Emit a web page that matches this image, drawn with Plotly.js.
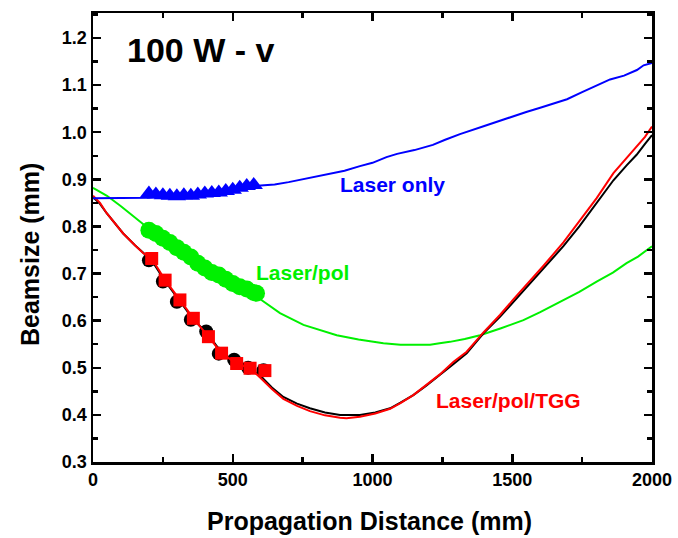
<!DOCTYPE html>
<html>
<head>
<meta charset="utf-8">
<script src="https://cdn.plot.ly/plotly-3.0.1.min.js"></script>
<style>html,body{margin:0;padding:0;background:#fff;}#chart{width:678px;height:538px;}</style>
</head>
<body>
<div id="chart"></div>
<script>
// ---- data ----
const blueLineX = [0,50,100,150,180,200,300,400,500,600,650,700,750,800,850,900,955,1000,1050,1088,1150,1216,1260,1313,1400,1492,1550,1600,1650,1696,1750,1800,1850,1900,1946,1970,2000];
const blueLineY = [0.860,0.860,0.860,0.860,0.860,0.861,0.866,0.872,0.879,0.887,0.889,0.894,0.900,0.906,0.912,0.918,0.928,0.935,0.947,0.954,0.962,0.973,0.984,0.996,1.013,1.032,1.043,1.052,1.061,1.070,1.085,1.098,1.112,1.120,1.132,1.142,1.147];
const blueMarkX = [200,225,250,275,300,325,350,375,400,425,450,475,500,525,550,575];
const blueMarkY = [0.870,0.868,0.866,0.865,0.864,0.866,0.865,0.868,0.870,0.871,0.872,0.875,0.878,0.882,0.886,0.888];

const greenLineX = [0,25,50,100,150,200,250,300,350,400,450,500,550,600,669,753,810,872,950,1039,1100,1150,1206,1240,1277,1330,1385,1460,1540,1600,1671,1740,1802,1860,1909,1950,2000];
const greenLineY = [0.882,0.874,0.865,0.843,0.818,0.795,0.775,0.755,0.735,0.713,0.695,0.679,0.667,0.645,0.616,0.591,0.580,0.569,0.560,0.552,0.549,0.549,0.549,0.552,0.555,0.561,0.569,0.584,0.601,0.618,0.640,0.661,0.683,0.702,0.722,0.736,0.758];
const greenMarkX = [200,225,250,275,300,325,350,375,400,425,450,475,500,525,550,575,585];
const greenMarkY = [0.792,0.785,0.775,0.766,0.755,0.745,0.735,0.722,0.712,0.702,0.697,0.688,0.679,0.672,0.667,0.660,0.658];

const blackLineX = [0,25,49,80,108,150,180,210,258,311,359,413,460,514,562,597,640,681,730,776,830,884,955,1010,1063,1100,1146,1190,1241,1290,1337,1397,1456,1504,1560,1611,1683,1740,1802,1862,1910,1945,1975,2000];
const blackLineY = [0.862,0.848,0.828,0.806,0.785,0.760,0.743,0.728,0.684,0.642,0.603,0.570,0.532,0.512,0.499,0.484,0.458,0.438,0.424,0.414,0.405,0.400,0.400,0.405,0.414,0.426,0.442,0.461,0.484,0.508,0.531,0.573,0.608,0.640,0.677,0.710,0.758,0.800,0.850,0.898,0.930,0.952,0.975,0.994];
const blackMarkX = [200,250,300,350,405,450,505,555,610];
const blackMarkY = [0.728,0.683,0.640,0.602,0.577,0.530,0.517,0.500,0.495];

const redLineX = [0,25,49,80,108,150,180,210,258,311,359,413,460,514,562,597,640,681,730,776,830,884,907,955,1010,1063,1100,1146,1190,1241,1290,1337,1397,1456,1504,1560,1611,1683,1740,1802,1862,1910,1945,1975,2000];
const redLineY = [0.865,0.850,0.828,0.806,0.785,0.760,0.743,0.732,0.686,0.644,0.605,0.566,0.531,0.509,0.499,0.480,0.455,0.434,0.419,0.408,0.399,0.394,0.393,0.396,0.403,0.413,0.425,0.442,0.462,0.486,0.513,0.534,0.575,0.612,0.645,0.682,0.716,0.766,0.810,0.860,0.913,0.945,0.969,0.990,1.012];
const redMarkX = [210,258,311,359,413,460,514,562,615];
const redMarkY = [0.732,0.686,0.644,0.605,0.566,0.531,0.509,0.499,0.494];

const xTickVals = [0,500,1000,1500,2000];
const xTickText = ['0','500','1000','1500','2000'];
const yTickVals = [0.3,0.4,0.5,0.6,0.7,0.8,0.9,1.0,1.1,1.2];
const yTickText = ['0.3','0.4','0.5','0.6','0.7','0.8','0.9','1.0','1.1','1.2'];

const labelText = ['Laser only','Laser/pol','Laser/pol/TGG'];
const labelX = [1070,748,1485];
const labelY = [0.890,0.703,0.431];
const titleText = '100 W - v';
const xTitle = 'Propagation Distance (mm)';
const yTitle = 'Beamsize (mm)';

// ---- styles ----
const BLUE = '#0000ff', GREEN = '#00f000', RED = '#ff0000', BLACK = '#000000';
const FONT = 'Arial, "Liberation Sans", sans-serif';

const traces = [
  {x: greenLineX, y: greenLineY, mode:'lines', line:{color:GREEN, width:2}},
  {x: greenMarkX, y: greenMarkY, mode:'markers', marker:{color:GREEN, size:17, symbol:'circle'}},
  {x: blackLineX, y: blackLineY, mode:'lines', line:{color:BLACK, width:2}},
  {x: blackMarkX, y: blackMarkY, mode:'markers', marker:{color:BLACK, size:14, symbol:'circle'}},
  {x: redLineX, y: redLineY, mode:'lines', line:{color:RED, width:2}},
  {x: redMarkX, y: redMarkY, mode:'markers', marker:{color:RED, size:13, symbol:'square'}},
  {x: blueLineX, y: blueLineY, mode:'lines', line:{color:BLUE, width:2}},
  {x: blueMarkX, y: blueMarkY, mode:'markers', marker:{color:BLUE, size:16, symbol:'triangle-up'}}
];

const labelColors = [BLUE, GREEN, RED];
const annotations = labelText.map((t,i)=>({
  x: labelX[i], y: labelY[i], xref:'x', yref:'y', text: t, showarrow:false,
  font:{family:FONT, size:21, color:labelColors[i], weight:'bold'}
}));
annotations.push({
  x: 0.057, y: 0.918, xref:'paper', yref:'paper', xanchor:'left', yanchor:'middle',
  text: titleText, showarrow:false, font:{family:FONT, size:34, color:BLACK, weight:'bold'}
});
annotations.push({
  x: 0.4955, y: -0.131, xref:'paper', yref:'paper', xanchor:'center', yanchor:'middle',
  text: xTitle, showarrow:false, font:{family:FONT, size:25, color:BLACK, weight:'bold'}
});
annotations.push({
  x: -0.1127, y: 0.461, xref:'paper', yref:'paper', xanchor:'center', yanchor:'middle', textangle:-90,
  text: yTitle, showarrow:false, font:{family:FONT, size:25, color:BLACK, weight:'bold'}
});

const axisCommon = {
  showline:true, linecolor:BLACK, linewidth:2.5, mirror:'allticks',
  ticks:'inside', ticklen:8, tickwidth:2.5, tickcolor:BLACK,
  showgrid:false, zeroline:false,
  tickfont:{family:FONT, size:18, color:BLACK, weight:'bold'}
};

const layout = {
  width:678, height:538,
  margin:{l:93, r:26, t:13, b:76},
  paper_bgcolor:'#fff', plot_bgcolor:'#fff',
  showlegend:false,
  xaxis: Object.assign({}, axisCommon, {
    range:[0,2000], tickvals:xTickVals, ticktext:xTickText,
    minor:{dtick:250, tick0:0, ticks:'inside', ticklen:5, tickwidth:2.5, tickcolor:BLACK, showgrid:false}
  }),
  yaxis: Object.assign({}, axisCommon, {
    range:[0.3,1.253], tickvals:yTickVals, ticktext:yTickText,
    minor:{dtick:0.05, tick0:0.3, ticks:'inside', ticklen:5, tickwidth:2.5, tickcolor:BLACK, showgrid:false}
  }),
  annotations: annotations
};

Plotly.newPlot('chart', traces, layout, {displayModeBar:false, staticPlot:true});
</script>
</body>
</html>
